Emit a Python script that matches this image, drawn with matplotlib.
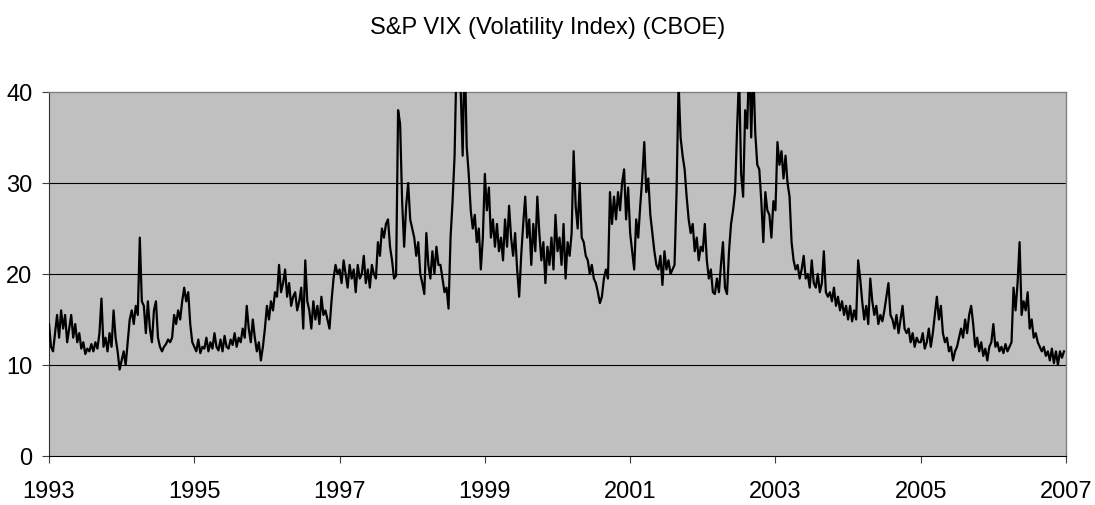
import matplotlib
matplotlib.use("Agg")
import matplotlib.pyplot as plt
import numpy as np

# VIX readings, ~36 points per year
vix_1993 = [14.5, 12.0, 11.5, 13.5, 15.5, 13.0, 16.0, 14.0, 15.5, 12.5, 14.0, 15.5,
            13.0, 14.5, 12.5, 13.5, 11.8, 12.5, 11.2, 11.8, 11.5, 12.3, 11.5, 12.5,
            11.8, 13.5, 17.3, 12.0, 13.0, 11.5, 13.5, 12.0, 16.0, 13.0, 11.5, 9.5]
vix_1994 = [10.5, 11.5, 10.0, 12.5, 15.0, 16.0, 14.5, 16.5, 15.5, 24.0, 17.0, 16.5,
            13.5, 17.0, 14.0, 12.5, 16.0, 17.0, 13.0, 12.0, 11.5, 12.0, 12.3, 12.8,
            12.5, 13.0, 15.5, 14.5, 16.0, 15.0, 17.0, 18.5, 17.0, 18.0, 14.5, 12.5]
vix_1995 = [12.0, 11.5, 12.8, 11.3, 12.0, 11.8, 13.0, 11.5, 12.5, 11.8, 13.5, 12.0,
            11.6, 12.8, 11.5, 13.2, 12.0, 11.8, 12.8, 12.2, 13.5, 12.0, 13.0, 12.5,
            14.0, 13.0, 16.5, 14.0, 12.5, 15.0, 13.0, 11.5, 12.5, 10.5, 12.0, 14.0]
vix_1996 = [16.5, 15.0, 17.0, 16.0, 18.0, 17.5, 21.0, 18.0, 19.0, 20.5, 17.5, 19.0,
            16.5, 17.5, 18.0, 16.0, 17.0, 18.5, 14.0, 21.5, 17.0, 16.0, 14.0, 17.0,
            15.0, 16.5, 14.5, 17.5, 15.5, 16.0, 15.0, 14.0, 17.0, 19.5, 21.0, 20.0]
vix_1997 = [20.5, 19.0, 21.5, 20.0, 18.5, 21.0, 19.5, 20.5, 18.0, 21.0, 19.5, 20.0,
            22.0, 19.0, 20.5, 18.5, 21.0, 20.0, 19.5, 23.5, 22.0, 25.0, 24.0, 25.5,
            26.0, 23.0, 21.5, 19.5, 19.8, 38.0, 36.5, 28.0, 23.0, 27.5, 30.0, 26.0]
vix_1998 = [25.0, 24.0, 22.0, 23.5, 20.0, 19.0, 17.8, 24.5, 21.0, 19.5, 22.5, 20.0,
            23.0, 21.0, 21.0, 19.5, 18.0, 18.5, 16.2, 24.0, 28.0, 33.0, 44.0, 42.0,
            40.5, 33.0, 45.0, 34.0, 31.0, 27.0, 25.0, 26.5, 23.5, 25.0, 20.5, 24.0]
vix_1999 = [31.0, 27.0, 29.5, 24.0, 26.0, 23.0, 25.5, 22.5, 24.0, 21.5, 26.0, 23.0,
            27.5, 24.0, 22.0, 24.5, 20.5, 17.5, 22.0, 25.5, 28.5, 24.0, 26.0, 21.0,
            25.5, 22.5, 28.5, 24.5, 21.5, 23.5, 19.0, 23.0, 21.0, 24.0, 20.5, 26.5]
vix_2000 = [22.5, 24.0, 21.0, 25.5, 19.5, 23.5, 22.0, 24.5, 33.5, 27.5, 25.0, 30.0,
            24.0, 23.5, 22.0, 21.5, 20.0, 21.0, 19.5, 19.0, 18.0, 16.8, 17.5, 19.5,
            20.5, 19.5, 29.0, 25.5, 28.5, 26.0, 29.0, 27.0, 30.0, 31.5, 26.0, 29.5]
vix_2001 = [24.5, 22.5, 20.5, 26.0, 24.0, 27.5, 30.5, 34.5, 29.0, 30.5, 26.5, 24.5,
            22.5, 21.0, 20.5, 22.0, 18.8, 22.5, 20.5, 21.5, 20.0, 20.5, 21.0, 29.0,
            41.0, 35.0, 33.0, 31.5, 28.5, 26.0, 24.5, 25.5, 22.5, 24.0, 21.5, 23.0]
vix_2002 = [22.5, 25.5, 21.5, 19.5, 20.5, 18.0, 17.8, 19.5, 18.0, 21.0, 23.5, 18.5,
            17.8, 22.5, 25.5, 27.0, 29.0, 36.0, 42.0, 31.0, 28.5, 38.0, 36.0, 44.0,
            35.0, 43.0, 35.5, 32.0, 31.5, 28.0, 23.5, 29.0, 27.0, 26.5, 24.0, 28.0]
vix_2003 = [27.0, 34.5, 32.0, 33.5, 30.5, 33.0, 30.0, 28.5, 23.5, 21.5, 20.5, 21.0,
            19.5, 20.5, 22.0, 19.5, 20.0, 18.5, 21.5, 19.0, 18.5, 20.0, 18.0, 19.0,
            22.5, 18.0, 17.5, 18.0, 17.0, 18.5, 16.5, 17.5, 16.0, 17.0, 15.5, 16.5]
vix_2004 = [15.0, 16.5, 14.8, 16.0, 15.0, 21.5, 19.5, 17.0, 15.0, 16.5, 14.5, 19.5,
            17.0, 15.5, 16.5, 14.5, 15.5, 14.8, 16.0, 17.5, 19.0, 15.5, 15.0, 14.0,
            15.5, 13.5, 15.0, 16.5, 14.0, 13.5, 14.0, 12.5, 13.5, 12.0, 13.0, 12.5]
vix_2005 = [12.5, 13.5, 11.8, 12.5, 14.0, 12.0, 13.5, 15.5, 17.5, 15.0, 16.5, 13.5,
            12.5, 13.0, 11.5, 12.0, 10.5, 11.5, 12.0, 13.0, 14.0, 13.0, 15.0, 13.5,
            15.5, 16.5, 14.5, 12.0, 13.0, 11.5, 12.5, 11.0, 11.8, 10.5, 12.0, 12.5]
vix_2006 = [14.5, 12.0, 12.5, 11.5, 12.0, 11.3, 12.3, 11.5, 12.0, 12.5, 18.5, 16.0,
            19.0, 23.5, 15.5, 17.0, 16.0, 18.0, 14.0, 15.0, 13.0, 13.5, 12.5, 12.0,
            11.5, 12.0, 11.0, 11.5, 10.5, 11.8, 10.2, 11.5, 10.0, 11.5, 10.8, 11.5]

years = list(range(1993, 2007))
yearly = [vix_1993, vix_1994, vix_1995, vix_1996, vix_1997, vix_1998, vix_1999,
          vix_2000, vix_2001, vix_2002, vix_2003, vix_2004, vix_2005, vix_2006]
tick_years = [1993, 1995, 1997, 1999, 2001, 2003, 2005, 2007]
y_ticks = [0, 10, 20, 30, 40]
title = "S&P VIX (Volatility Index) (CBOE)"


def main() -> None:
    plt.rcParams["font.family"] = ["Liberation Sans", "DejaVu Sans"]

    dates = []
    values = []
    for year, vals in zip(years, yearly):
        n = len(vals)
        dates.extend(year + i / n for i in range(n))
        values.extend(vals)

    fig = plt.figure(figsize=(10.95, 5.06), dpi=100)
    ax = fig.add_axes([49 / 1095, 1 - 457 / 506, 1017 / 1095, 364 / 506])
    ax.set_facecolor("#c0c0c0")

    ax.plot(dates, values, color="black", linewidth=1.6, zorder=3)

    ax.set_xlim(1993, 2007)
    ax.set_ylim(0, 40)
    ax.set_xticks(tick_years)
    ax.set_xticklabels([str(y) for y in tick_years])
    ax.set_yticks(y_ticks)

    for v in y_ticks[1:-1]:
        ax.axhline(v, color="black", linewidth=0.8, zorder=2)

    ax.tick_params(axis="both", labelsize=17, length=5, width=0.8, color="#404040")
    ax.tick_params(axis="x", pad=12)
    ax.tick_params(axis="y", pad=7)

    for side in ["top", "right"]:
        ax.spines[side].set_color("#808080")
        ax.spines[side].set_linewidth(1.0)
    ax.spines["left"].set_color("#303030")
    ax.spines["bottom"].set_color("black")

    fig.text(0.5, 1 - 34 / 506, title, ha="center", va="baseline", fontsize=17)

    fig.savefig("out.png", dpi=100)
    plt.close(fig)


if __name__ == "__main__":
    main()
